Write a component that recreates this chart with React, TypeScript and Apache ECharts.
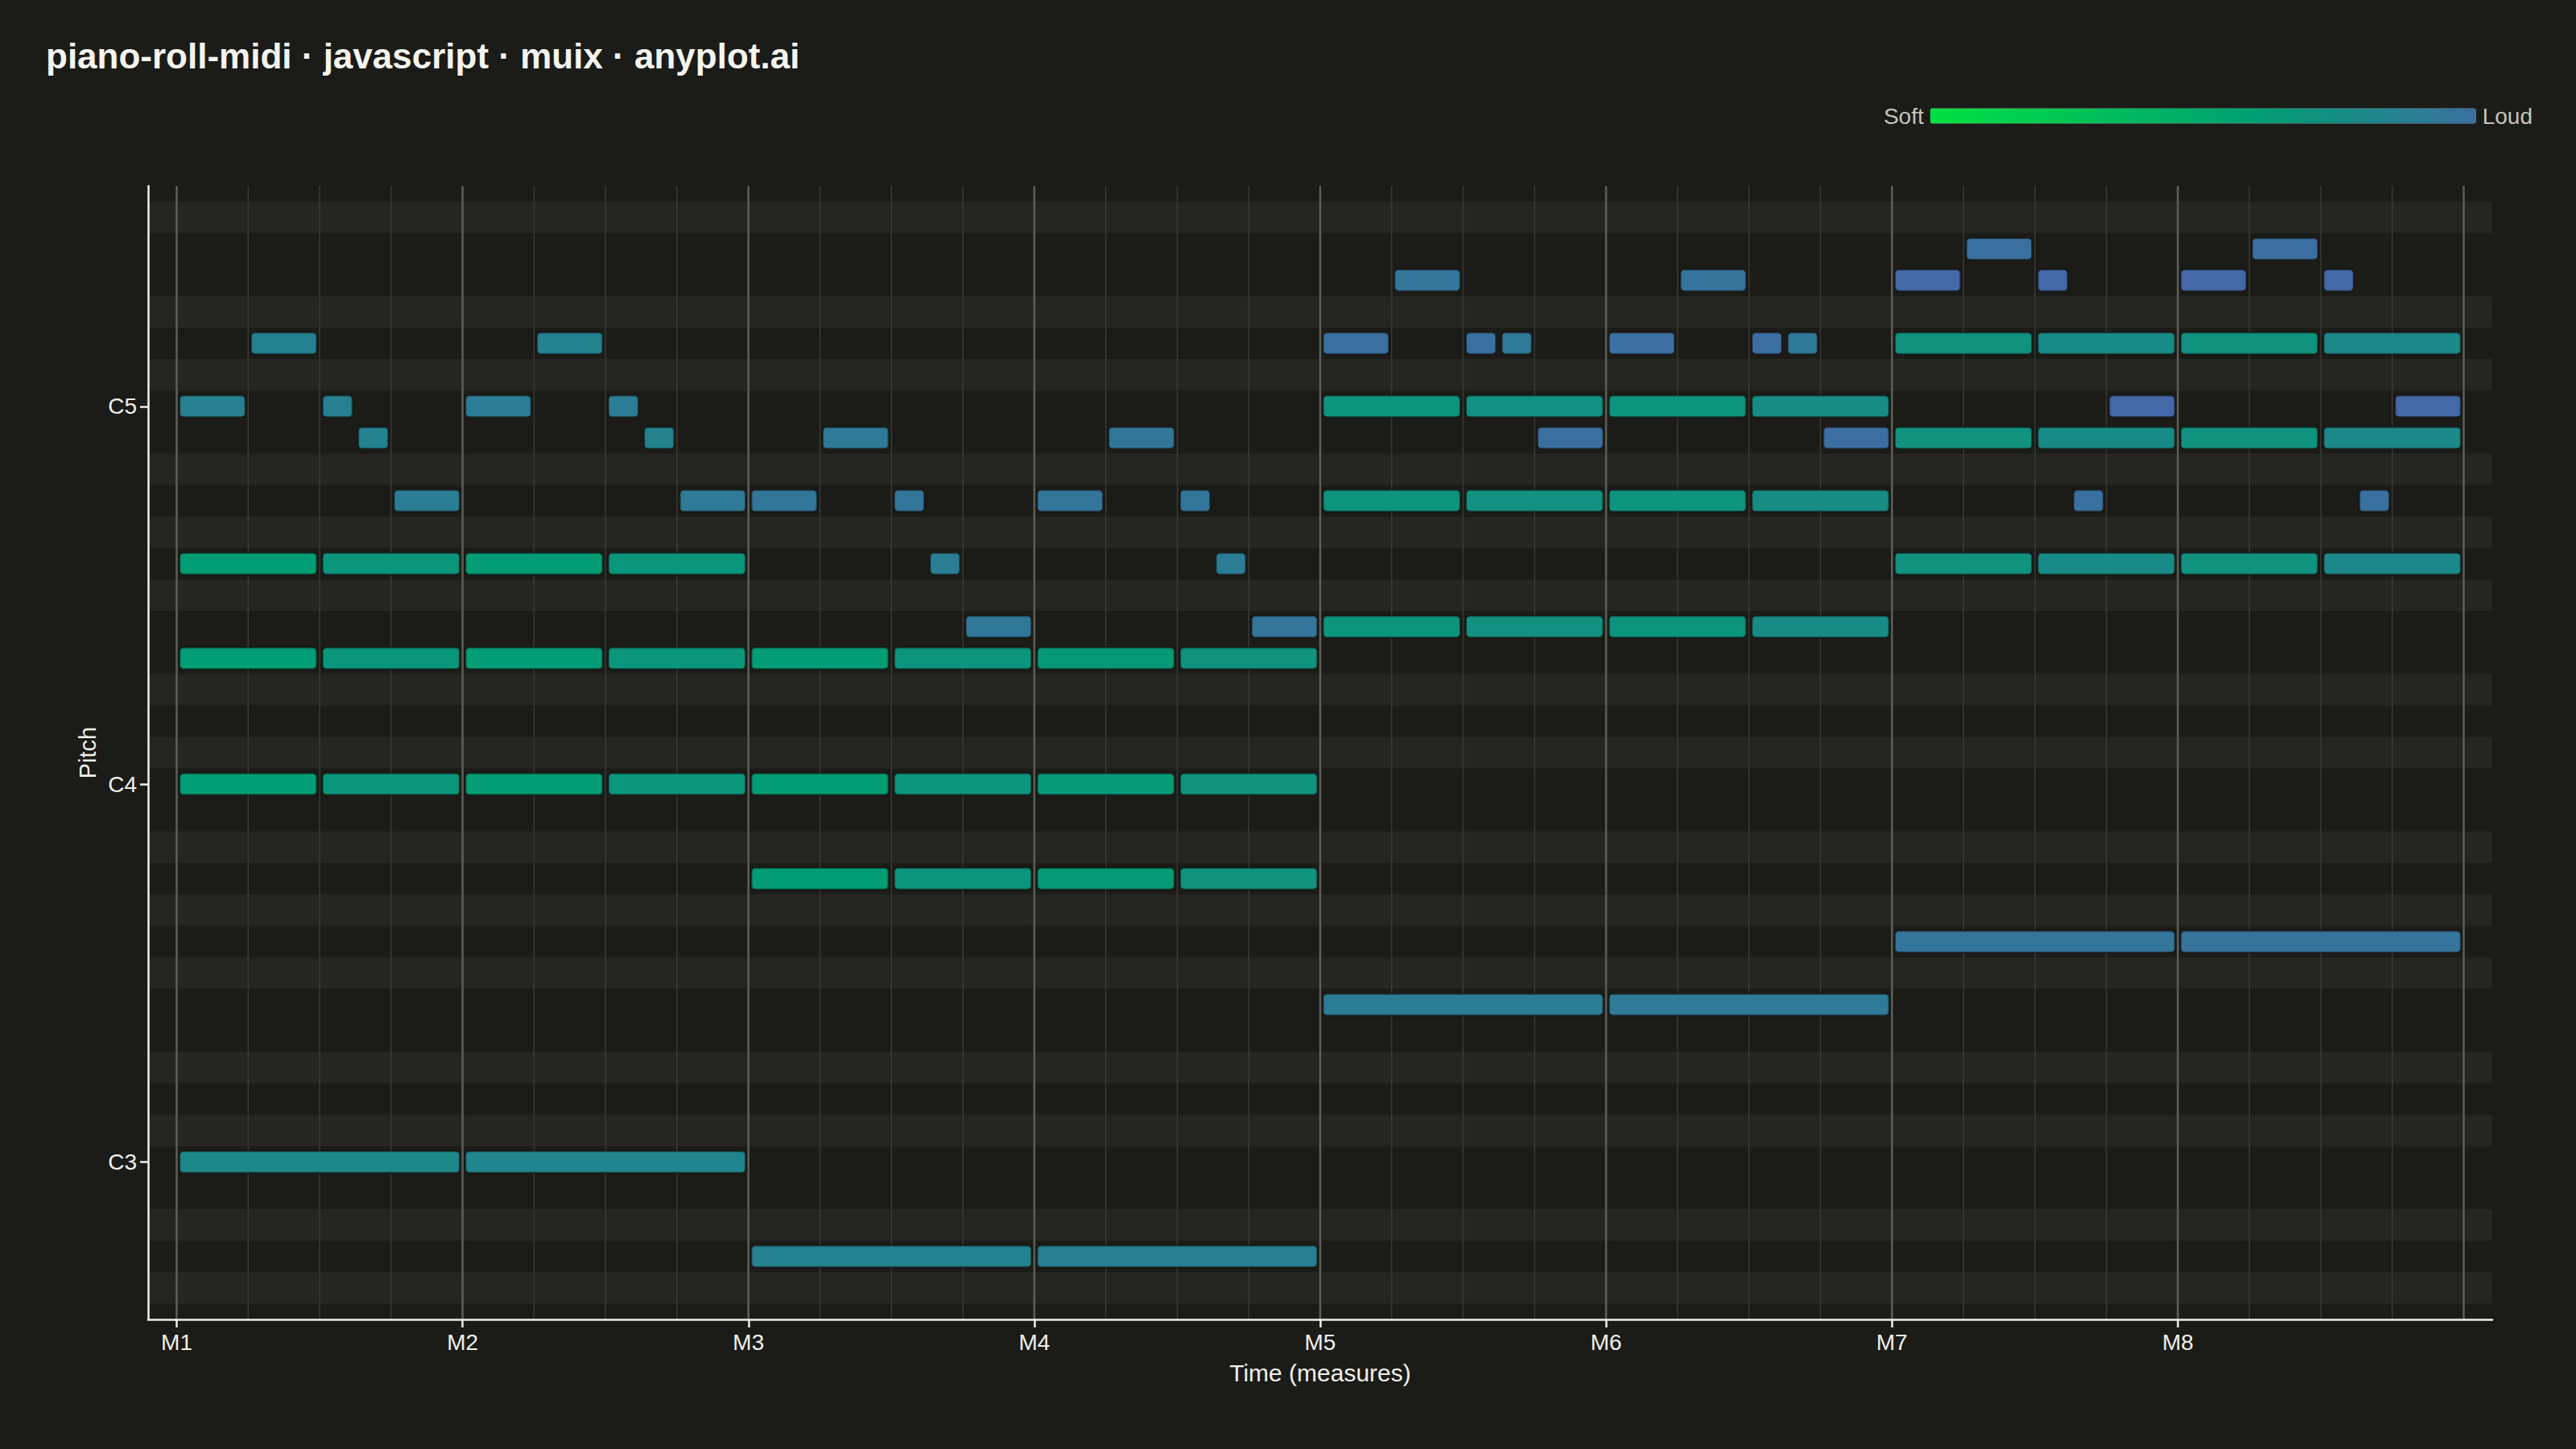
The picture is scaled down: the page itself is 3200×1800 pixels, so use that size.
import React, { useEffect, useRef } from 'react';
import * as echarts from 'echarts';

const FONT = '"Liberation Sans", Arial, Helvetica, sans-serif';
const BG = '#1b1b18';
const TEXT = '#f0f0ea';
const LEGEND_TEXT = '#c4c4bc';

const TITLE = 'piano-roll-midi · javascript · muix · anyplot.ai';
const X_NAME = 'Time (measures)';
const Y_NAME = 'Pitch';

// Time axis (beats, 4 beats per measure)
const MEASURE_LABELS = ['M1', 'M2', 'M3', 'M4', 'M5', 'M6', 'M7', 'M8'];
const BEATS_PER_MEASURE = 4;
const TOTAL_BEATS = 32;
const X_MIN = -0.4;
const X_MAX = 32.4;

// Pitch axis (MIDI note numbers)
const PITCH_MIN = 43;
const PITCH_MAX = 79;
const PITCH_TICKS = [48, 60, 72];
const PITCH_TICK_LABELS = ['C3', 'C4', 'C5'];
const BLACK_KEY_ROWS = [44, 46, 49, 51, 54, 56, 58, 61, 63, 66, 68, 70, 73, 75, 78];

// Notes: [start beat, duration (beats), MIDI pitch, velocity]
const MELODY: number[][] = [
  [0, 1, 72, 106], [1, 1, 74, 104], [2, 0.5, 72, 106], [2.5, 0.5, 71, 104], [3, 1, 69, 109],
  [4, 1, 72, 110], [5, 1, 74, 104], [6, 0.5, 72, 109], [6.5, 0.5, 71, 104], [7, 1, 69, 112],
  [8, 1, 69, 114], [9, 1, 71, 112], [10, 0.5, 69, 115], [10.5, 0.5, 67, 109], [11, 1, 65, 113],
  [12, 1, 69, 116], [13, 1, 71, 114], [14, 0.5, 69, 116], [14.5, 0.5, 67, 110], [15, 1, 65, 115],
  [16, 1, 74, 120], [17, 1, 76, 115], [18, 0.5, 74, 120], [18.5, 0.5, 74, 112], [19, 1, 71, 120],
  [20, 1, 74, 122], [21, 1, 76, 117], [22, 0.5, 74, 122], [22.5, 0.5, 74, 113], [23, 1, 71, 122],
  [24, 1, 76, 127], [25, 1, 77, 120], [26, 0.5, 76, 127], [26.5, 0.5, 69, 120], [27, 1, 72, 127],
  [28, 1, 76, 127], [29, 1, 77, 121], [30, 0.5, 76, 127], [30.5, 0.5, 69, 120], [31, 1, 72, 127],
];

// Chords: one triad per measure, played as two half notes
const CHORD_PITCHES: number[][] = [
  [60, 64, 67], [60, 64, 67], [57, 60, 64], [57, 60, 64],
  [65, 69, 72], [65, 69, 72], [67, 71, 74], [67, 71, 74],
];
const CHORD_VELOCITIES: number[][] = [
  [81, 87], [82, 87], [82, 88], [84, 90], [89, 92], [89, 96], [91, 97], [91, 99],
];

const BASS: number[][] = [
  [0, 4, 48, 99], [4, 4, 48, 102], [8, 4, 45, 105], [12, 4, 45, 106],
  [16, 4, 53, 109], [20, 4, 53, 112], [24, 4, 55, 116], [28, 4, 55, 117],
];

// Velocity colour scale
const VELOCITY_SOFT = 20;
const VELOCITY_LOUD = 120;
const VELOCITY_TOP = 130;
const COLOR_STOPS: [number, string][] = [
  [0, '#00e040'],
  [0.6, '#009e73'],
  [1.0, '#3a70a0'],
  [1.1, '#4864ab'],
];

function hexToRgb(h: string): number[] {
  const n = parseInt(h.slice(1), 16);
  return [(n >> 16) & 255, (n >> 8) & 255, n & 255];
}
function colorAt(t: number): string {
  for (let i = 0; i < COLOR_STOPS.length - 1; i++) {
    const [t0, c0] = COLOR_STOPS[i];
    const [t1, c1] = COLOR_STOPS[i + 1];
    if (t <= t1 + 1e-9) {
      const f = Math.max(0, Math.min(1, (t - t0) / (t1 - t0)));
      const a = hexToRgb(c0);
      const b = hexToRgb(c1);
      const r = a.map((v, k) => Math.round(v + (b[k] - v) * f));
      return 'rgb(' + r.join(',') + ')';
    }
  }
  return COLOR_STOPS[COLOR_STOPS.length - 1][1];
}
function colorRange(tEnd: number, steps: number): string[] {
  const out: string[] = [];
  for (let i = 0; i <= steps; i++) out.push(colorAt((tEnd * i) / steps));
  return out;
}

export default function App() {
  const ref = useRef<HTMLDivElement>(null);

  useEffect(() => {
    document.body.style.margin = '0';
    document.body.style.background = BG;
    if (!ref.current) return;
    const chart = echarts.init(ref.current, undefined, { renderer: 'svg' });

    const chordNotes: number[][] = [];
    CHORD_PITCHES.forEach((pitches, m) => {
      CHORD_VELOCITIES[m].forEach((vel, h) => {
        pitches.forEach((p) => {
          chordNotes.push([m * BEATS_PER_MEASURE + h * 2, 2, p, vel]);
        });
      });
    });
    const allNotes = [...BASS, ...chordNotes, ...MELODY];

    const measureStarts = MEASURE_LABELS.map((_, i) => i * BEATS_PER_MEASURE);
    const beatLines: number[][] = [];
    for (let b = 0; b <= TOTAL_BEATS; b++) beatLines.push([b, PITCH_MIN]);

    const topT = (VELOCITY_TOP - VELOCITY_SOFT) / (VELOCITY_LOUD - VELOCITY_SOFT);
    const legendColors = colorRange(1, 20);
    const noteColors = colorRange(topT, 22);

    const option: any = {
      animation: false,
      backgroundColor: BG,
      textStyle: { fontFamily: FONT },
      title: {
        text: TITLE,
        left: 52,
        top: 42,
        textStyle: { color: '#f4f4ee', fontSize: 44, fontWeight: 'bold', fontFamily: FONT },
      },
      grid: { left: 184, right: 104, top: 231, bottom: 161, containLabel: false },
      xAxis: {
        type: 'value',
        z: 6,
        min: X_MIN,
        max: X_MAX,
        name: X_NAME,
        nameLocation: 'middle',
        nameGap: 51,
        nameTextStyle: { color: TEXT, fontSize: 30, fontFamily: FONT },
        axisLine: { show: true, onZero: false, lineStyle: { color: TEXT, width: 2.5 } },
        axisTick: { show: true, customValues: measureStarts, length: 10, lineStyle: { color: TEXT, width: 2.5 } },
        axisLabel: {
          customValues: measureStarts,
          formatter: (v: number) => MEASURE_LABELS[Math.round(v / BEATS_PER_MEASURE)] || '',
          color: TEXT,
          fontSize: 28,
          margin: 14,
          fontFamily: FONT,
        },
        splitLine: { show: false },
      },
      yAxis: {
        type: 'value',
        z: 6,
        min: PITCH_MIN,
        max: PITCH_MAX,
        name: Y_NAME,
        nameLocation: 'middle',
        nameGap: 43,
        nameTextStyle: { color: TEXT, fontSize: 29, fontFamily: FONT },
        axisLine: { show: true, onZero: false, lineStyle: { color: TEXT, width: 2.5 } },
        axisTick: { show: true, customValues: PITCH_TICKS, length: 10, lineStyle: { color: TEXT, width: 2.5 } },
        axisLabel: {
          customValues: PITCH_TICKS,
          formatter: (v: number) => PITCH_TICK_LABELS[PITCH_TICKS.indexOf(Math.round(v))] || '',
          color: TEXT,
          fontSize: 28,
          margin: 14,
          fontFamily: FONT,
        },
        splitLine: { show: false },
      },
      visualMap: [
        {
          type: 'continuous',
          show: false,
          seriesIndex: 2,
          dimension: 3,
          min: VELOCITY_SOFT,
          max: VELOCITY_TOP,
          inRange: { color: noteColors },
        },
        {
          type: 'continuous',
          show: true,
          seriesIndex: 3,
          orient: 'horizontal',
          min: VELOCITY_SOFT,
          max: VELOCITY_LOUD,
          calculable: false,
          hoverLink: false,
          right: 39,
          top: 115,
          itemWidth: 19,
          itemHeight: 678,
          text: ['Loud', 'Soft'],
          textGap: 8,
          textStyle: { color: LEGEND_TEXT, fontSize: 28, fontFamily: FONT },
          inRange: { color: legendColors },
        },
      ],
      series: [
        {
          type: 'custom',
          name: 'black keys',
          silent: true,
          z: 1,
          encode: { x: 0, y: 1 },
          data: BLACK_KEY_ROWS.map((p) => [0, p]),
          renderItem: (params: any, api: any) => {
            const p = api.value(1);
            const cs = params.coordSys;
            const yTop = api.coord([0, p + 0.5])[1];
            const yBot = api.coord([0, p - 0.5])[1];
            return {
              type: 'rect',
              shape: { x: cs.x + 1.5, y: yTop, width: cs.width - 1.5, height: yBot - yTop },
              style: { fill: '#252522' },
            };
          },
        },
        {
          type: 'custom',
          name: 'beat grid',
          silent: true,
          z: 2,
          encode: { x: 0, y: 1 },
          data: beatLines,
          renderItem: (params: any, api: any) => {
            const b = api.value(0);
            const cs = params.coordSys;
            const x = api.coord([b, PITCH_MIN])[0];
            const isMeasure = Math.round(b) % BEATS_PER_MEASURE === 0;
            return {
              type: 'line',
              shape: { x1: x, y1: cs.y, x2: x, y2: cs.y + cs.height },
              style: {
                stroke: isMeasure ? '#5e5e59' : '#393936',
                lineWidth: isMeasure ? 2.5 : 1.5,
              },
            };
          },
        },
        {
          type: 'custom',
          name: 'notes',
          z: 3,
          encode: { x: [0, 1], y: 2 },
          data: allNotes,
          renderItem: (params: any, api: any) => {
            const s = api.value(0);
            const d = api.value(1);
            const p = api.value(2);
            const a = api.coord([s, p]);
            const b = api.coord([s + d, p]);
            const rowH = Math.abs(api.size([0, 1])[1]);
            const h = rowH * 0.69;
            return {
              type: 'rect',
              shape: { x: a[0] + 3.5, y: a[1] - h / 2, width: b[0] - a[0] - 7, height: h, r: 5 },
              style: {
                fill: api.visual('color'),
                stroke: 'rgba(18,18,16,0.55)',
                lineWidth: 2.5,
              },
            };
          },
        },
        {
          type: 'line',
          name: 'legend',
          data: [],
          silent: true,
        },
      ],
    };

    chart.setOption(option);
    return () => chart.dispose();
  }, []);

  return <div ref={ref} style={{ width: 3200, height: 1800, background: BG }} />;
}
